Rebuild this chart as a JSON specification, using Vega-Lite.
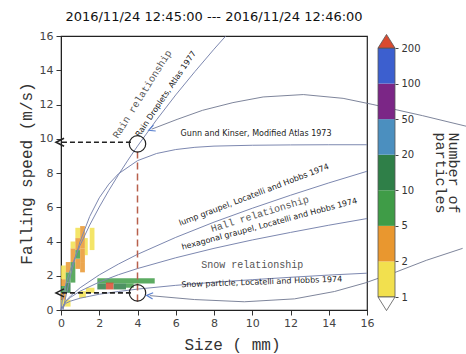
{
  "$schema": "https://vega.github.io/schema/vega-lite/v6.json",
  "width": 306,
  "height": 274,
  "autosize": {"type": "none"},
  "padding": {"left": 61, "top": 36, "right": 99, "bottom": 44},
  "background": "white",
  "title": {"text": "2016/11/24 12:45:00 --- 2016/11/24 12:46:00", "font": "DejaVu Sans", "fontSize": 13, "fontWeight": "normal", "color": "#111", "offset": 6, "anchor": "middle"},
  "config": {"view": {"stroke": "#222", "strokeWidth": 1.2}, "axis": {"grid": false, "labelOverlap": false, "labelFlush": false, "labelFontWeight": "normal", "titleFontWeight": "normal"}, "axisQuantitative": {"labelOverlap": false}},
  "datasets": {
    "curves": [
      {"c": "rain", "d": 0, "v": 0}, {"c": "rain", "d": 0.1, "v": 0.81}, {"c": "rain", "d": 0.25, "v": 1.49}, {"c": "rain", "d": 0.5, "v": 2.38}, {"c": "rain", "d": 0.75, "v": 3.12}, {"c": "rain", "d": 1, "v": 3.78}, {"c": "rain", "d": 1.5, "v": 4.96}, {"c": "rain", "d": 2, "v": 6.01}, {"c": "rain", "d": 2.5, "v": 6.98}, {"c": "rain", "d": 3, "v": 7.89}, {"c": "rain", "d": 3.5, "v": 8.75}, {"c": "rain", "d": 4, "v": 9.57}, {"c": "rain", "d": 5, "v": 11.11}, {"c": "rain", "d": 6, "v": 12.56}, {"c": "rain", "d": 7, "v": 13.92}, {"c": "rain", "d": 8, "v": 15.23}, {"c": "rain", "d": 8.6, "v": 15.98},
      {"c": "gunn", "d": 0.11, "v": 0.01}, {"c": "gunn", "d": 0.2, "v": 0.52}, {"c": "gunn", "d": 0.5, "v": 2.02}, {"c": "gunn", "d": 0.75, "v": 3.08}, {"c": "gunn", "d": 1, "v": 4.0}, {"c": "gunn", "d": 1.5, "v": 5.46}, {"c": "gunn", "d": 2, "v": 6.55}, {"c": "gunn", "d": 2.5, "v": 7.35}, {"c": "gunn", "d": 3, "v": 7.95}, {"c": "gunn", "d": 4, "v": 8.72}, {"c": "gunn", "d": 5, "v": 9.14}, {"c": "gunn", "d": 6, "v": 9.37}, {"c": "gunn", "d": 7, "v": 9.5}, {"c": "gunn", "d": 8, "v": 9.57}, {"c": "gunn", "d": 10, "v": 9.62}, {"c": "gunn", "d": 12, "v": 9.64}, {"c": "gunn", "d": 14, "v": 9.65}, {"c": "gunn", "d": 16, "v": 9.65},
      {"c": "lump", "d": 0, "v": 0}, {"c": "lump", "d": 0.25, "v": 0.52}, {"c": "lump", "d": 0.5, "v": 0.82}, {"c": "lump", "d": 1, "v": 1.3}, {"c": "lump", "d": 2, "v": 2.05}, {"c": "lump", "d": 3, "v": 2.68}, {"c": "lump", "d": 4, "v": 3.25}, {"c": "lump", "d": 6, "v": 4.24}, {"c": "lump", "d": 8, "v": 5.13}, {"c": "lump", "d": 10, "v": 5.94}, {"c": "lump", "d": 12, "v": 6.7}, {"c": "lump", "d": 14, "v": 7.42}, {"c": "lump", "d": 16, "v": 8.1},
      {"c": "hex", "d": 0, "v": 0}, {"c": "hex", "d": 0.25, "v": 0.5}, {"c": "hex", "d": 0.5, "v": 0.74}, {"c": "hex", "d": 1, "v": 1.1}, {"c": "hex", "d": 2, "v": 1.63}, {"c": "hex", "d": 3, "v": 2.06}, {"c": "hex", "d": 4, "v": 2.42}, {"c": "hex", "d": 6, "v": 3.05}, {"c": "hex", "d": 8, "v": 3.6}, {"c": "hex", "d": 10, "v": 4.09}, {"c": "hex", "d": 12, "v": 4.53}, {"c": "hex", "d": 14, "v": 4.95}, {"c": "hex", "d": 16, "v": 5.34},
      {"c": "snow", "d": 0, "v": 0}, {"c": "snow", "d": 0.25, "v": 0.39}, {"c": "snow", "d": 0.5, "v": 0.52}, {"c": "snow", "d": 1, "v": 0.69}, {"c": "snow", "d": 2, "v": 0.92}, {"c": "snow", "d": 3, "v": 1.08}, {"c": "snow", "d": 4, "v": 1.22}, {"c": "snow", "d": 6, "v": 1.44}, {"c": "snow", "d": 8, "v": 1.62}, {"c": "snow", "d": 10, "v": 1.77}, {"c": "snow", "d": 12, "v": 1.91}, {"c": "snow", "d": 14, "v": 2.04}, {"c": "snow", "d": 16, "v": 2.15}
    ],
    "callouts": [
      {"c": "upper", "d": 4.74, "v": 10.56}, {"c": "upper", "d": 6.07, "v": 11.13}, {"c": "upper", "d": 7.4, "v": 11.66}, {"c": "upper", "d": 8.99, "v": 12.11}, {"c": "upper", "d": 10.57, "v": 12.44}, {"c": "upper", "d": 12.67, "v": 12.58}, {"c": "upper", "d": 14.75, "v": 12.36}, {"c": "upper", "d": 16.31, "v": 12.0}, {"c": "upper", "d": 18.9, "v": 11.35}, {"c": "upper", "d": 21.3, "v": 10.7},
      {"c": "lower", "d": 4.64, "v": 0.84}, {"c": "lower", "d": 6.98, "v": 0.61}, {"c": "lower", "d": 9.59, "v": 0.48}, {"c": "lower", "d": 12.21, "v": 0.65}, {"c": "lower", "d": 14.3, "v": 1.08}, {"c": "lower", "d": 15.9, "v": 1.58}, {"c": "lower", "d": 17.5, "v": 2.21}, {"c": "lower", "d": 19.1, "v": 2.9}, {"c": "lower", "d": 21.0, "v": 3.6}
    ],
    "cells": [
      {"x0": 0.0, "x1": 0.25, "y0": 0.2, "y1": 0.6, "n": 1},
      {"x0": 0.0, "x1": 0.25, "y0": 0.6, "y1": 1.0, "n": 3},
      {"x0": 0.0, "x1": 0.25, "y0": 1.0, "y1": 1.4, "n": 8},
      {"x0": 0.0, "x1": 0.25, "y0": 1.4, "y1": 1.8, "n": 3},
      {"x0": 0.0, "x1": 0.25, "y0": 1.8, "y1": 2.6, "n": 1},
      {"x0": 0.25, "x1": 0.5, "y0": 0.2, "y1": 0.6, "n": 1},
      {"x0": 0.25, "x1": 0.5, "y0": 1.0, "y1": 1.6, "n": 12},
      {"x0": 0.25, "x1": 0.5, "y0": 1.6, "y1": 2.2, "n": 8},
      {"x0": 0.25, "x1": 0.5, "y0": 2.2, "y1": 2.8, "n": 3},
      {"x0": 0.5, "x1": 0.75, "y0": 1.6, "y1": 2.8, "n": 7},
      {"x0": 0.5, "x1": 0.75, "y0": 2.8, "y1": 3.6, "n": 3},
      {"x0": 0.5, "x1": 0.75, "y0": 3.6, "y1": 4.0, "n": 1},
      {"x0": 0.75, "x1": 1.0, "y0": 2.4, "y1": 3.0, "n": 4},
      {"x0": 0.75, "x1": 1.0, "y0": 3.0, "y1": 3.5, "n": 7},
      {"x0": 0.75, "x1": 1.0, "y0": 3.5, "y1": 4.2, "n": 3},
      {"x0": 0.75, "x1": 1.0, "y0": 4.2, "y1": 4.8, "n": 1},
      {"x0": 1.0, "x1": 1.25, "y0": 2.2, "y1": 2.8, "n": 3},
      {"x0": 1.0, "x1": 1.25, "y0": 2.8, "y1": 3.6, "n": 2},
      {"x0": 1.0, "x1": 1.25, "y0": 3.6, "y1": 4.2, "n": 4},
      {"x0": 1.0, "x1": 1.25, "y0": 4.2, "y1": 4.9, "n": 3},
      {"x0": 1.25, "x1": 1.4, "y0": 3.2, "y1": 4.2, "n": 1},
      {"x0": 1.5, "x1": 1.75, "y0": 3.5, "y1": 4.8, "n": 1},
      {"x0": 0.95, "x1": 1.3, "y0": 0.7, "y1": 1.1, "n": 1},
      {"x0": 1.3, "x1": 1.75, "y0": 1.0, "y1": 1.3, "n": 1},
      {"x0": 1.9, "x1": 4.9, "y0": 1.55, "y1": 1.85, "n": 7},
      {"x0": 1.9, "x1": 2.35, "y0": 1.2, "y1": 1.55, "n": 14},
      {"x0": 2.35, "x1": 2.75, "y0": 1.2, "y1": 1.6, "n": 250},
      {"x0": 2.75, "x1": 3.4, "y0": 1.2, "y1": 1.55, "n": 14},
      {"x0": 3.4, "x1": 3.8, "y0": 1.3, "y1": 1.55, "n": 6}
    ],
    "dashes": [
      {"c": "top", "d": 3.75, "v": 9.8}, {"c": "top", "d": 0.05, "v": 9.8},
      {"c": "bottom", "d": 3.75, "v": 1.0}, {"c": "bottom", "d": 0.05, "v": 1.0}
    ],
    "reddash": [
      {"d": 4.0, "v": 9.25}, {"d": 4.0, "v": 0.4}
    ],
    "circles": [
      {"d": 4.0, "v": 9.7}, {"d": 4.0, "v": 1.0}
    ],
    "arrows": [
      {"d": -0.05, "v": 9.8}, {"d": -0.05, "v": 1.0}
    ],
    "bins": [
      {"lo": 0, "hi": 1, "n": 1}, {"lo": 1, "hi": 2, "n": 3}, {"lo": 2, "hi": 3, "n": 7}, {"lo": 3, "hi": 4, "n": 15}, {"lo": 4, "hi": 5, "n": 30}, {"lo": 5, "hi": 6, "n": 70}, {"lo": 6, "hi": 7, "n": 150}
    ]
  },
  "layer": [
    {
      "layer": [
        {
          "data": {"name": "cells"},
          "mark": {"type": "rect", "opacity": 0.85},
          "encoding": {
            "x": {"field": "x0", "type": "quantitative", "scale": {"domain": [0, 16], "nice": false, "zero": false},
              "axis": {"title": "Size ( mm)", "tickCount": 8, "labelOverlap": false, "titleFont": "Liberation Mono", "titleFontSize": 16, "titleFontWeight": "normal", "titleColor": "#333", "titlePadding": 8, "titleX": 171, "labelFont": "DejaVu Sans", "labelFontSize": 11, "labelFontWeight": "normal", "labelColor": "#444", "tickSize": 5, "labelPadding": 2, "domainColor": "#222", "tickColor": "#333"}},
            "x2": {"field": "x1"},
            "y": {"field": "y0", "type": "quantitative", "scale": {"domain": [0, 16], "nice": false, "zero": false},
              "axis": {"title": "Falling speed (m/s)", "tickCount": 8, "labelOverlap": false, "titleFont": "Liberation Mono", "titleFontSize": 16, "titleFontWeight": "normal", "titleColor": "#333", "titlePadding": 5, "labelFont": "DejaVu Sans", "labelFontSize": 11, "labelFontWeight": "normal", "labelColor": "#444", "tickSize": 5, "labelPadding": 3, "domainColor": "#222", "tickColor": "#333"}},
            "y2": {"field": "y1"},
            "color": {"field": "n", "type": "quantitative", "legend": null,
              "scale": {"type": "threshold", "domain": [2, 5, 10, 20, 50, 100, 200], "range": ["#f2e04e", "#e9972f", "#3f9c47", "#2f7f48", "#4b8fbf", "#7b2686", "#3c5fcf", "#d94a30"]}}
          }
        },
        {
          "data": {"name": "curves"},
          "mark": {"type": "line", "stroke": "#7d88b0", "strokeWidth": 1},
          "encoding": {
            "x": {"field": "d", "type": "quantitative"},
            "y": {"field": "v", "type": "quantitative"},
            "detail": {"field": "c"}
          }
        },
        {
          "data": {"name": "callouts"},
          "mark": {"type": "line", "stroke": "#6f7790", "strokeWidth": 0.9},
          "encoding": {
            "x": {"field": "d", "type": "quantitative"},
            "y": {"field": "v", "type": "quantitative"},
            "detail": {"field": "c"}
          }
        },
        {
          "data": {"name": "dashes"},
          "mark": {"type": "line", "stroke": "#222", "strokeWidth": 1.6, "strokeDash": [5, 3]},
          "encoding": {
            "x": {"field": "d", "type": "quantitative"},
            "y": {"field": "v", "type": "quantitative"},
            "detail": {"field": "c"}
          }
        },
        {
          "data": {"name": "reddash"},
          "mark": {"type": "line", "stroke": "#b8604c", "strokeWidth": 1.5, "strokeDash": [7, 4]},
          "encoding": {
            "x": {"field": "d", "type": "quantitative"},
            "y": {"field": "v", "type": "quantitative"}
          }
        },
        {
          "data": {"name": "circles"},
          "mark": {"type": "point", "shape": "circle", "size": 270, "filled": false, "stroke": "#222", "strokeWidth": 1.2, "opacity": 1},
          "encoding": {
            "x": {"field": "d", "type": "quantitative"},
            "y": {"field": "v", "type": "quantitative"}
          }
        },
        {
          "data": {"name": "arrows"},
          "mark": {"type": "point", "shape": "M1,-1L-1,0L1,1", "size": 64, "filled": false, "stroke": "#222", "strokeWidth": 1.6, "opacity": 1},
          "encoding": {
            "x": {"field": "d", "type": "quantitative"},
            "y": {"field": "v", "type": "quantitative"}
          }
        },
        {
          "data": {"values": [{"d": 4.74, "v": 10.56}]},
          "mark": {"type": "point", "shape": "M1,-1L-1,0L1,1", "size": 40, "filled": false, "stroke": "#5b82d0", "strokeWidth": 1.2, "opacity": 1, "angle": -21},
          "encoding": {"x": {"field": "d", "type": "quantitative"}, "y": {"field": "v", "type": "quantitative"}}
        },
        {
          "data": {"values": [{"d": 4.64, "v": 0.84}]},
          "mark": {"type": "point", "shape": "M1,-1L-1,0L1,1", "size": 40, "filled": false, "stroke": "#5b82d0", "strokeWidth": 1.2, "opacity": 1, "angle": 5},
          "encoding": {"x": {"field": "d", "type": "quantitative"}, "y": {"field": "v", "type": "quantitative"}}
        },
        {
          "data": {"values": [{"d": 4.25, "v": 12.6, "t": "Rain relationship"}]},
          "mark": {"type": "text", "font": "Liberation Mono", "fontSize": 10, "color": "#555", "angle": -58},
          "encoding": {"x": {"field": "d", "type": "quantitative"}, "y": {"field": "v", "type": "quantitative"}, "text": {"field": "t"}}
        },
        {
          "data": {"values": [{"d": 5.5, "v": 12.6, "t": "Rain Droplets, Atlas 1977"}]},
          "mark": {"type": "text", "font": "DejaVu Sans", "fontSize": 8, "color": "#222", "angle": -56},
          "encoding": {"x": {"field": "d", "type": "quantitative"}, "y": {"field": "v", "type": "quantitative"}, "text": {"field": "t"}}
        },
        {
          "data": {"values": [{"d": 10.2, "v": 10.3, "t": "Gunn and Kinser, Modified Atlas 1973"}]},
          "mark": {"type": "text", "font": "DejaVu Sans", "fontSize": 8, "color": "#222", "angle": 0},
          "encoding": {"x": {"field": "d", "type": "quantitative"}, "y": {"field": "v", "type": "quantitative"}, "text": {"field": "t"}}
        },
        {
          "data": {"values": [{"d": 10.1, "v": 6.7, "t": "lump graupel, Locatelli and Hobbs 1974"}]},
          "mark": {"type": "text", "font": "DejaVu Sans", "fontSize": 8, "color": "#222", "angle": -21},
          "encoding": {"x": {"field": "d", "type": "quantitative"}, "y": {"field": "v", "type": "quantitative"}, "text": {"field": "t"}}
        },
        {
          "data": {"values": [{"d": 10.4, "v": 5.6, "t": "Hall relationship"}]},
          "mark": {"type": "text", "font": "Liberation Mono", "fontSize": 10, "color": "#555", "angle": -17},
          "encoding": {"x": {"field": "d", "type": "quantitative"}, "y": {"field": "v", "type": "quantitative"}, "text": {"field": "t"}}
        },
        {
          "data": {"values": [{"d": 10.9, "v": 5.0, "t": "hexagonal graupel, Locatelli and Hobbs 1974"}]},
          "mark": {"type": "text", "font": "DejaVu Sans", "fontSize": 8, "color": "#222", "angle": -15},
          "encoding": {"x": {"field": "d", "type": "quantitative"}, "y": {"field": "v", "type": "quantitative"}, "text": {"field": "t"}}
        },
        {
          "data": {"values": [{"d": 10.0, "v": 2.63, "t": "Snow relationship"}]},
          "mark": {"type": "text", "font": "Liberation Mono", "fontSize": 10, "color": "#555", "angle": 0},
          "encoding": {"x": {"field": "d", "type": "quantitative"}, "y": {"field": "v", "type": "quantitative"}, "text": {"field": "t"}}
        },
        {
          "data": {"values": [{"d": 10.5, "v": 1.61, "t": "Snow particle, Locatelli and Hobbs 1974"}]},
          "mark": {"type": "text", "font": "DejaVu Sans", "fontSize": 8, "color": "#222", "angle": -2},
          "encoding": {"x": {"field": "d", "type": "quantitative"}, "y": {"field": "v", "type": "quantitative"}, "text": {"field": "t"}}
        }
      ]
    },
    {
      "layer": [
        {
          "data": {"name": "bins"},
          "mark": {"type": "rect"},
          "encoding": {
            "x": {"datum": 0, "type": "quantitative", "scale": {"domain": [0, 1], "range": [317, 334], "nice": false, "zero": false}, "axis": null},
            "x2": {"datum": 1},
            "y": {"field": "lo", "type": "quantitative", "scale": {"domain": [0, 7], "range": [261, 12], "nice": false, "zero": false},
              "axis": {"orient": "right", "offset": 28, "tickCount": 7, "labelOverlap": false, "labelExpr": "['1','2','5','10','20','50','100','200'][datum.value]", "domain": false, "tickSize": 3, "tickColor": "#444", "labelFont": "DejaVu Sans", "labelFontSize": 10, "labelFontWeight": "normal", "labelColor": "#333", "labelPadding": 3, "title": ["Number of", "particles"], "titleFont": "Liberation Mono", "titleFontSize": 15, "titleFontWeight": "normal", "titleColor": "#333", "titlePadding": 12, "titleLineHeight": 13}},
            "y2": {"field": "hi"},
            "color": {"field": "n", "type": "quantitative", "legend": null,
              "scale": {"type": "threshold", "domain": [2, 5, 10, 20, 50, 100, 200], "range": ["#f2e04e", "#e9972f", "#3f9c47", "#2f7f48", "#4b8fbf", "#7b2686", "#3c5fcf", "#d94a30"]}}
          }
        },
        {
          "data": {"values": [{"lo": 0, "hi": 7}]},
          "mark": {"type": "rect", "fill": null, "fillOpacity": 0, "stroke": "#555", "strokeWidth": 0.8},
          "encoding": {
            "x": {"datum": 0, "type": "quantitative"},
            "x2": {"datum": 1},
            "y": {"field": "lo", "type": "quantitative"},
            "y2": {"field": "hi"}
          }
        },
        {
          "data": {"values": [{"p": 7.143}]},
          "mark": {"type": "point", "shape": "M-1,0.6L0,-1L1,0.6Z", "size": 289, "filled": true, "fill": "#d94a30", "stroke": "#555", "strokeWidth": 0.8, "opacity": 1},
          "encoding": {"x": {"datum": 0.5, "type": "quantitative"}, "y": {"field": "p", "type": "quantitative"}}
        },
        {
          "data": {"values": [{"p": -0.143}]},
          "mark": {"type": "point", "shape": "M-1,-0.6L0,1L1,-0.6Z", "size": 289, "filled": true, "fill": "#ffffff", "stroke": "#555", "strokeWidth": 0.8, "opacity": 1},
          "encoding": {"x": {"datum": 0.5, "type": "quantitative"}, "y": {"field": "p", "type": "quantitative"}}
        }
      ]
    }
  ],
  "resolve": {"scale": {"x": "independent", "y": "independent"}, "axis": {"x": "independent", "y": "independent"}}
}
